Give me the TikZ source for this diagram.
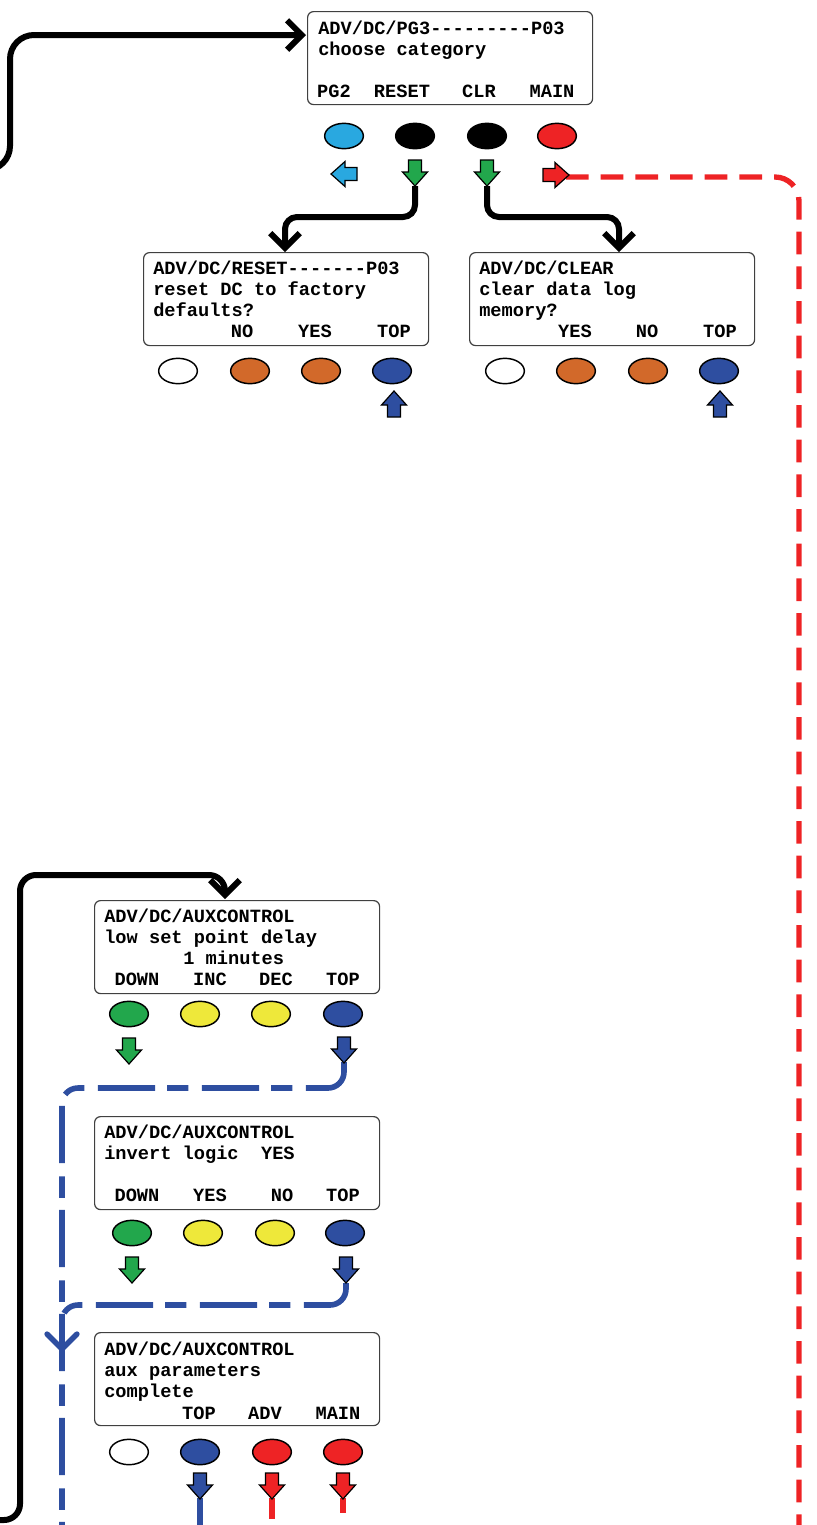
\documentclass[tikz,border=0pt]{standalone}
\usepackage{fontspec}
\setmonofont{Liberation Mono}
\usetikzlibrary{arrows.meta,shapes.geometric}
\definecolor{cLB}{RGB}{41,168,224}
\definecolor{cG}{RGB}{34,167,76}
\definecolor{cR}{RGB}{238,35,37}
\definecolor{cO}{RGB}{210,105,42}
\definecolor{cB}{RGB}{46,78,160}
\definecolor{cY}{RGB}{238,232,58}
\tikzset{
  scr/.style={draw=black!75, line width=0.9pt, rounded corners=4.5pt, anchor=north west,
    minimum width=213.75pt, minimum height=69.75pt, inner sep=0},
  txt/.style={font=\ttfamily\bfseries\fontsize{14}{16}\selectfont, inner sep=0, anchor=base west},
  lab/.style={font=\ttfamily\bfseries\fontsize{14}{16}\selectfont, inner sep=0, anchor=base},
  btn/.style={ellipse, draw=black, line width=1.1pt, minimum width=29pt, minimum height=19pt, inner sep=0},
  barrow/.pic={\draw[pic actions, line width=0.9pt, line join=miter]
     (-6.5,-13)--(6.5,-13)--(6.5,-1)--(12.5,-1)--(0,13)--(-12.5,-1)--(-6.5,-1)--cycle;},
  conn/.style={line width=4.5pt, draw=black},
  tipb/.style={-{Straight Barb[length=11pt,width=22pt]}},
  reddash/.style={line width=4pt, draw=cR, dash pattern=on 17pt off 9pt},
  bluedash/.style={line width=4.2pt, draw=cB, dash pattern=on 43pt off 10pt on 16pt off 9pt},
}
\begin{document}
\begin{tikzpicture}[x=0.75pt,y=-0.75pt]
\useasboundingbox (0,0) rectangle (817,1525);

% ---------- coordinates ----------
\coordinate (tlFrom) at (-30,170);
\coordinate (topIn) at (306,35);
\coordinate (gA2tip) at (415,186);
\coordinate (gA3tip) at (487,186);
\coordinate (rA4tip) at (566,177);
\coordinate (resIn) at (285,252);
\coordinate (clrIn) at (619,252);
\coordinate (redEnd) at (799,1535);
\coordinate (auxFrom) at (-30,1520);
\coordinate (auxIn) at (225,899);
\coordinate (bX1tip) at (344,1062);
\coordinate (bX2tip) at (346,1283);
\coordinate (blueEnd) at (62,1535);
\coordinate (blueJoin) at (62,1330);
\coordinate (chev) at (62,1349);
\coordinate (bZ2tip) at (200,1498);
\coordinate (rZ3tip) at (272,1498);
\coordinate (rZ4tip) at (343,1498);
\coordinate (bZ2end) at (200,1535);
\coordinate (rZ3end) at (272,1519);
\coordinate (rZ4end) at (343,1513);

% ---------- connectors ----------
\draw[reddash, rounded corners=18pt] (rA4tip) -- (799,177) -- (redEnd);
\draw[conn, tipb, rounded corners=18pt] (tlFrom) -- (10,170) -- (10,35) -- (topIn);
\draw[conn, tipb, rounded corners=9pt] (gA2tip) -- (415,217) -- (285,217) -- (resIn);
\draw[conn, tipb, rounded corners=9pt] (gA3tip) -- (487,217) -- (619,217) -- (clrIn);
\draw[conn, tipb, rounded corners=12pt] (auxFrom) -- (20,1520) -- (20,875) -- (225,875) -- (auxIn);
\draw[bluedash, rounded corners=12pt] (bX1tip) -- (344,1088) -- (62,1088) -- (blueEnd);
\draw[bluedash, rounded corners=12pt] (bX2tip) -- (346,1305) -- (62,1305) -- (blueJoin);
\draw[line width=4pt, draw=cB] (62,1320) -- (62,1360);
\draw[line width=4pt, draw=cB, line cap=round] (47,1334) -- (chev) -- (77,1334);
\draw[line width=4pt, draw=cB] (bZ2tip) -- (bZ2end);
\draw[line width=4pt, draw=cR] (rZ3tip) -- (rZ3end);
\draw[line width=4pt, draw=cR] (rZ4tip) -- (rZ4end);

% ---------- top screen ----------
\node[scr] (scrTop) at (307,11) {};
\node[txt] (tA1) at (318,34) {ADV/DC/PG3---------P03};
\node[txt] (tA2) at (318,55) {choose category};
\node[lab] (tA3) at (334,97) {PG2};
\node[lab] (tA4) at (402,97) {RESET};
\node[lab] (tA5) at (479,97) {CLR};
\node[lab] (tA6) at (552,97) {MAIN};
\node[btn, fill=cLB] (bA1) at (344,136) {};
\node[btn, fill=black] (bA2) at (415,136) {};
\node[btn, fill=black] (bA3) at (487,136) {};
\node[btn, fill=cR] (bA4) at (557,136) {};
\pic[fill=cLB, rotate=-90] (aA1) at (344,174) {barrow};
\pic[fill=cG] (aA2) at (415,173) {barrow};
\pic[fill=cG] (aA3) at (487,173) {barrow};
\pic[fill=cR, rotate=90] (aA4) at (556,175) {barrow};

% ---------- reset screen ----------
\node[scr] (scrR) at (143,252) {};
\node[txt] (tR1) at (153,274) {ADV/DC/RESET-------P03};
\node[txt] (tR2) at (153,295) {reset DC to factory};
\node[txt] (tR3) at (153,316) {defaults?};
\node[lab] (tR4) at (242,337) {NO};
\node[lab] (tR5) at (315,337) {YES};
\node[lab] (tR6) at (394,337) {TOP};
\node[btn, fill=white] (bR1) at (178,371) {};
\node[btn, fill=cO] (bR2) at (250,371) {};
\node[btn, fill=cO] (bR3) at (321,371) {};
\node[btn, fill=cB] (bR4) at (392,371) {};
\pic[fill=cB, rotate=180] (aR4) at (394,404) {barrow};

% ---------- clear screen ----------
\node[scr] (scrC) at (469,252) {};
\node[txt] (tC1) at (479,274) {ADV/DC/CLEAR};
\node[txt] (tC2) at (479,295) {clear data log};
\node[txt] (tC3) at (479,316) {memory?};
\node[lab] (tC4) at (575,337) {YES};
\node[lab] (tC5) at (647,337) {NO};
\node[lab] (tC6) at (720,337) {TOP};
\node[btn, fill=white] (bC1) at (505,371) {};
\node[btn, fill=cO] (bC2) at (576,371) {};
\node[btn, fill=cO] (bC3) at (648,371) {};
\node[btn, fill=cB] (bC4) at (719,371) {};
\pic[fill=cB, rotate=180] (aC4) at (720,404) {barrow};

% ---------- aux screen 1 ----------
\node[scr] (scrX) at (94,900) {};
\node[txt] (tX1) at (104,922) {ADV/DC/AUXCONTROL};
\node[txt] (tX2) at (104,943) {low set point delay};
\node[txt] (tX3) at (183,964) {1 minutes};
\node[lab] (tX4) at (137,985) {DOWN};
\node[lab] (tX5) at (210,985) {INC};
\node[lab] (tX6) at (276,985) {DEC};
\node[lab] (tX7) at (343,985) {TOP};
\node[btn, fill=cG] (bX1) at (129,1014) {};
\node[btn, fill=cY] (bX2) at (200,1014) {};
\node[btn, fill=cY] (bX3) at (271,1014) {};
\node[btn, fill=cB] (bX4) at (343,1014) {};
\pic[fill=cG] (aX1) at (129,1051) {barrow};
\pic[fill=cB] (aX4) at (344,1050) {barrow};

% ---------- aux screen 2 ----------
\node[scr] (scrY) at (94,1116) {};
\node[txt] (tY1) at (104,1138) {ADV/DC/AUXCONTROL};
\node[txt] (tY2) at (104,1159) {invert logic\ \ YES};
\node[lab] (tY4) at (137,1201) {DOWN};
\node[lab] (tY5) at (210,1201) {YES};
\node[lab] (tY6) at (282,1201) {NO};
\node[lab] (tY7) at (343,1201) {TOP};
\node[btn, fill=cG] (bY1) at (132,1233) {};
\node[btn, fill=cY] (bY2) at (203,1233) {};
\node[btn, fill=cY] (bY3) at (275,1233) {};
\node[btn, fill=cB] (bY4) at (345,1233) {};
\pic[fill=cG] (aY1) at (132,1270) {barrow};
\pic[fill=cB] (aY4) at (346,1270) {barrow};

% ---------- aux screen 3 ----------
\node[scr] (scrZ) at (94,1332) {};
\node[txt] (tZ1) at (104,1355) {ADV/DC/AUXCONTROL};
\node[txt] (tZ2) at (104,1376) {aux parameters};
\node[txt] (tZ3) at (104,1397) {complete};
\node[lab] (tZ4) at (199,1419) {TOP};
\node[lab] (tZ5) at (265,1419) {ADV};
\node[lab] (tZ6) at (338,1419) {MAIN};
\node[btn, fill=white] (bZ1) at (129,1452) {};
\node[btn, fill=cB] (bZ2) at (200,1452) {};
\node[btn, fill=cR] (bZ3) at (272,1452) {};
\node[btn, fill=cR] (bZ4) at (343,1452) {};
\pic[fill=cB] (aZ2) at (200,1486) {barrow};
\pic[fill=cR] (aZ3) at (272,1486) {barrow};
\pic[fill=cR] (aZ4) at (343,1486) {barrow};
\end{tikzpicture}
\end{document}
